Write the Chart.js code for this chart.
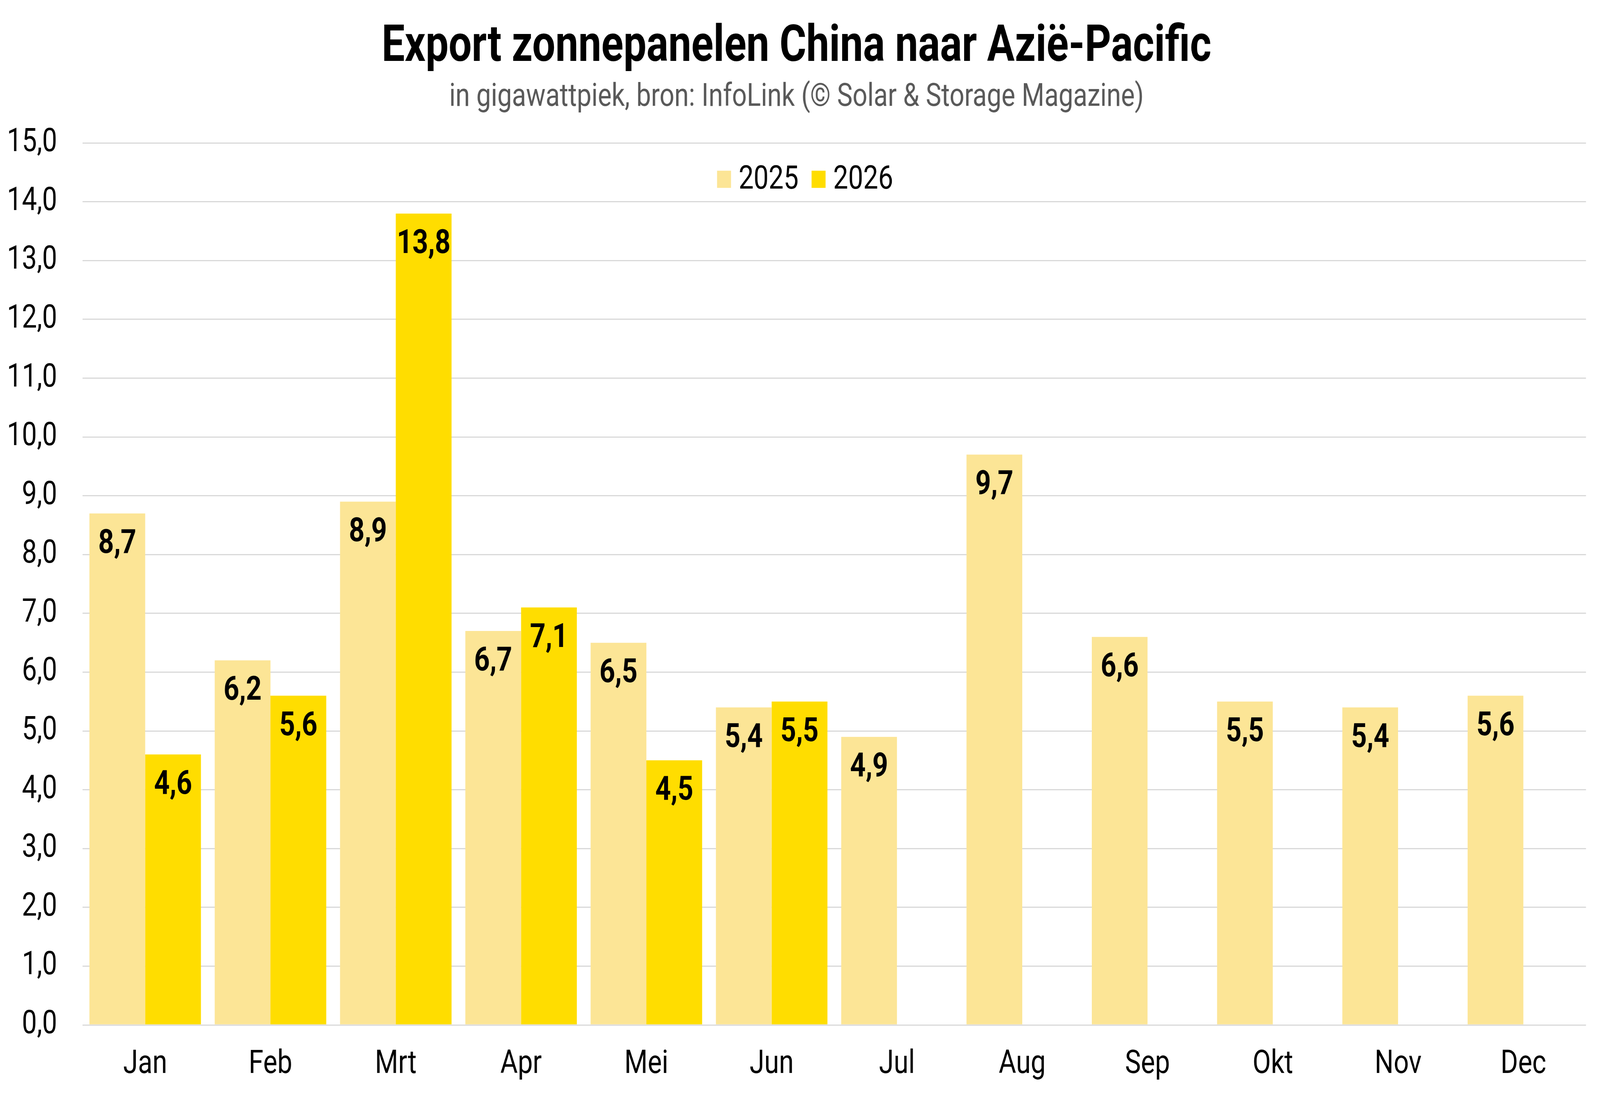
<!DOCTYPE html>
<html lang="nl">
<head>
<meta charset="utf-8">
<title>Export zonnepanelen China naar Azië-Pacific</title>
<script src="https://cdn.jsdelivr.net/npm/chart.js@4.4.1/dist/chart.umd.min.js"></script>
<style>
  html, body { margin: 0; padding: 0; background: #ffffff; overflow: hidden; }
</style>
</head>
<body>
<!-- tekenvlak is 5040x2807, het venster kan smaller zijn: uitrekken naar het venster -->
<canvas id="exportChart" width="5040" height="2807" style="display:block;width:100vw;height:100vh"></canvas>
<script>
// Data (gigawattpiek per maand)
const maanden = ['Jan', 'Feb', 'Mrt', 'Apr', 'Mei', 'Jun', 'Jul', 'Aug', 'Sep', 'Okt', 'Nov', 'Dec'];
const export2025 = [8.7, 6.2, 8.9, 6.7, 6.5, 5.4, 4.9, 9.7, 6.6, 5.5, 5.4, 5.6];
const export2026 = [4.6, 5.6, 13.8, 7.1, 4.5, 5.5, null, null, null, null, null, null];
const jaren = ['2025', '2026'];
const kleuren = ['#fce596', '#ffdd00'];

function formatNL(v) {
    return v.toFixed(1).replace('.', ',');
}

function initializeApp() {
    if (typeof Chart === 'undefined') {
        console.error('Chart.js is niet geladen');
        return;
    }

    const canvas = document.getElementById('exportChart');

    // Waardes bovenin de staven
    const waardeLabels = {
        id: 'waardeLabels',
        afterDatasetsDraw(chart) {
            const ctx = chart.ctx;
            ctx.save();
            ctx.font = 'bold 86px Roboto';
            ctx.fillStyle = '#000000';
            ctx.textAlign = 'center';
            ctx.textBaseline = 'alphabetic';
            chart.data.datasets.forEach((ds, i) => {
                chart.getDatasetMeta(i).data.forEach((bar, j) => {
                    const v = ds.data[j];
                    if (v === null || v === undefined) return;
                    ctx.fillText(formatNL(v), bar.x, bar.y + 101);
                });
            });
            ctx.restore();
        }
    };

    // Legenda binnen het grafiekvlak
    const legendaBinnen = {
        id: 'legendaBinnen',
        afterDraw(chart) {
            const ctx = chart.ctx;
            const area = chart.chartArea;
            const box = 44, gapTekst = 24, gapItem = 41;
            ctx.save();
            ctx.font = '84px Roboto';
            const items = chart.data.datasets.map(ds => ({
                tekst: ds.label,
                kleur: ds.backgroundColor,
                breedte: ctx.measureText(ds.label).width
            }));
            const totaal = items.reduce((s, it) => s + box + gapTekst + it.breedte, 0) + gapItem * (items.length - 1);
            let x = chart.width / 2 + 16 - totaal / 2;
            items.forEach(it => {
                ctx.fillStyle = it.kleur;
                ctx.fillRect(x, area.top + 71, box, box);
                x += box + gapTekst;
                ctx.fillStyle = '#000000';
                ctx.textAlign = 'left';
                ctx.textBaseline = 'alphabetic';
                ctx.fillText(it.tekst, x, area.top + 117);
                x += it.breedte + gapItem;
            });
            ctx.restore();
        }
    };

    new Chart(canvas, {
        type: 'bar',
        data: {
            labels: maanden,
            datasets: [
                { label: jaren[0], data: export2025, backgroundColor: kleuren[0] },
                { label: jaren[1], data: export2026, backgroundColor: kleuren[1] }
            ]
        },
        options: {
            responsive: false,
            animation: false,
            devicePixelRatio: 1,
            layout: { padding: { left: 22, right: 44, top: 0, bottom: 29 } },
            datasets: {
                bar: { categoryPercentage: 0.89, barPercentage: 1.0, borderWidth: 0 }
            },
            plugins: {
                legend: { display: false },
                tooltip: { enabled: false },
                title: {
                    display: true,
                    text: 'Export zonnepanelen China naar Azië-Pacific',
                    color: '#000000',
                    font: { family: 'Roboto', size: 129, weight: 'bold' },
                    padding: { top: 46, bottom: 0 }
                },
                subtitle: {
                    display: true,
                    text: 'in gigawattpiek, bron: InfoLink (© Solar & Storage Magazine)',
                    color: '#595959',
                    font: { family: 'Roboto', size: 82 },
                    padding: { top: 0, bottom: 67 }
                }
            },
            scales: {
                x: {
                    grid: { display: false, drawTicks: false },
                    border: { display: false },
                    ticks: {
                        color: '#000000',
                        padding: 52,
                        font: { family: 'Roboto', size: 84 }
                    },
                    // vaste hoogte voor de maandlabels
                    afterFit: scale => { scale.height = 153; }
                },
                y: {
                    min: 0,
                    max: 15,
                    grid: { color: '#d9d9d9', lineWidth: 3, drawTicks: false },
                    border: { display: false },
                    ticks: {
                        stepSize: 1,
                        color: '#000000',
                        padding: 80,
                        font: { family: 'Roboto', size: 84 },
                        callback: v => formatNL(v)
                    },
                    // vaste breedte, zodat het raster op x=260 begint
                    afterFit: scale => { scale.width = 238; }
                }
            }
        },
        plugins: [waardeLabels, legendaBinnen]
    });
}

document.addEventListener('DOMContentLoaded', () => {
    if (document.fonts && document.fonts.load) {
        Promise.all([
            document.fonts.load('bold 40px Roboto'),
            document.fonts.load('40px Roboto')
        ]).then(initializeApp, initializeApp);
    } else {
        initializeApp();
    }
});
</script>
</body>
</html>
